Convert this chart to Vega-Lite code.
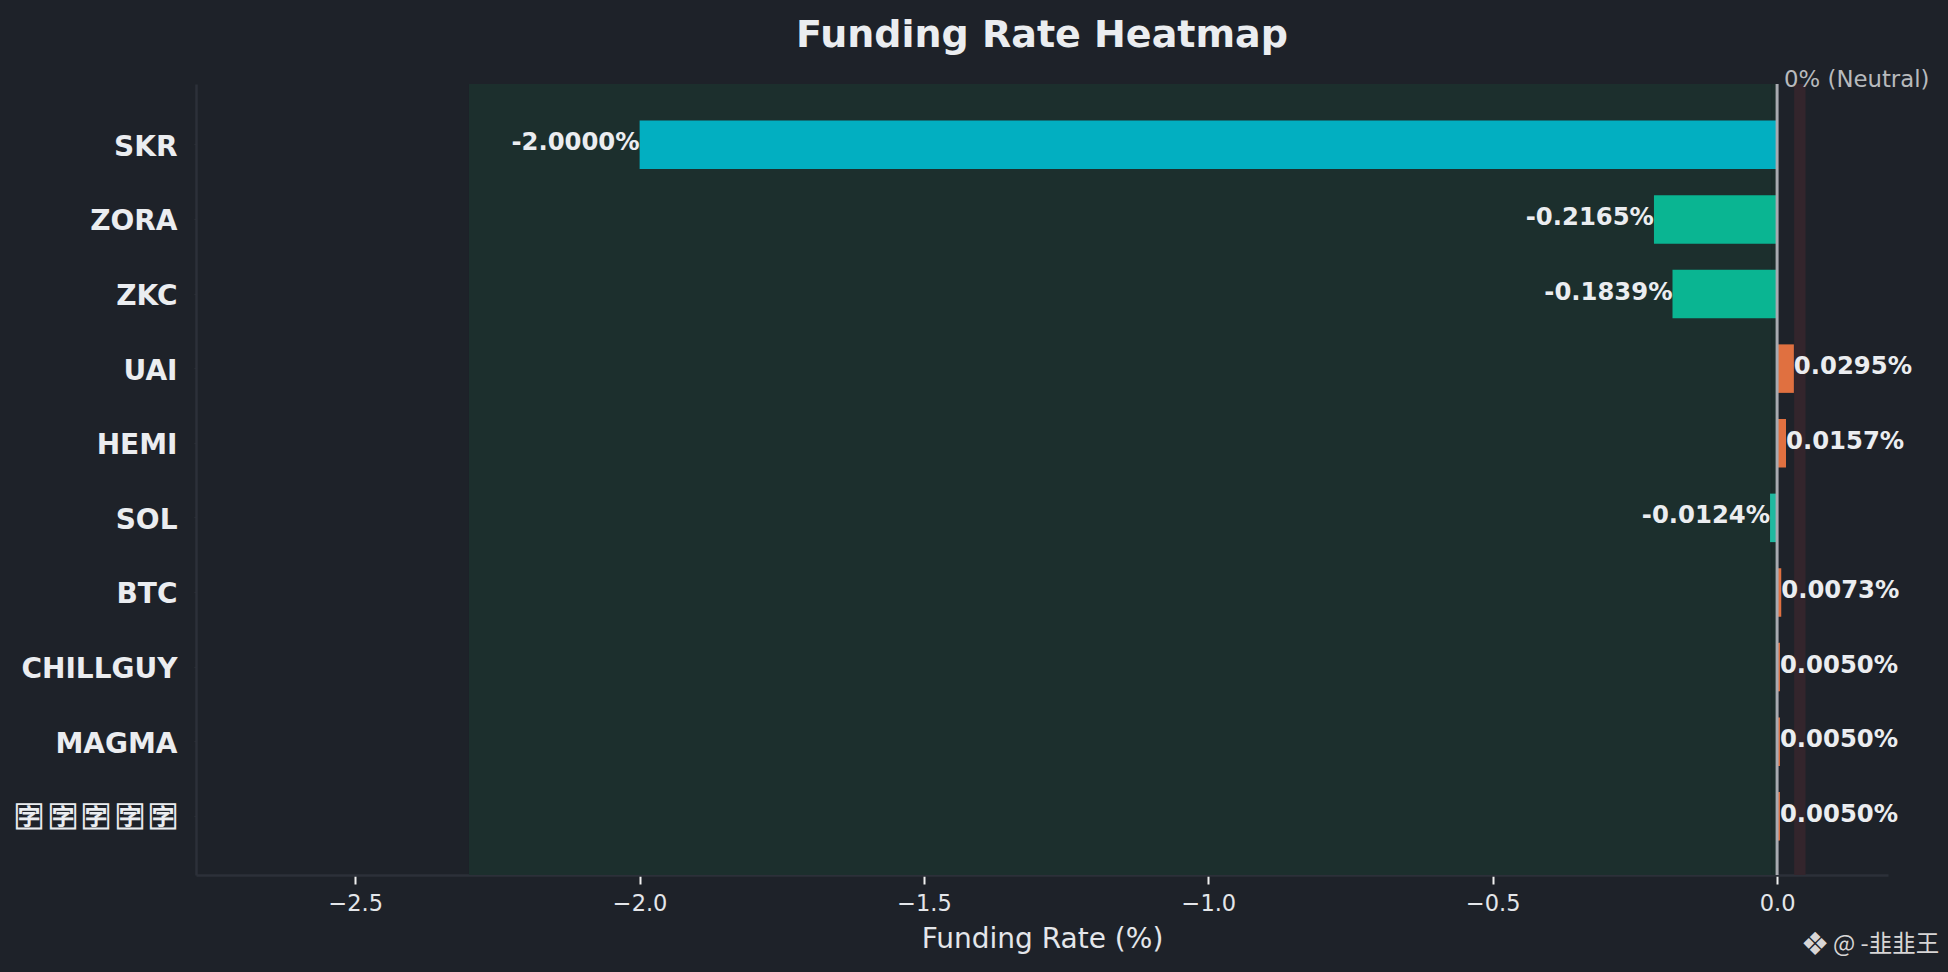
{
"$schema":"https://vega.github.io/schema/vega-lite/v6.json",
"width":1692,"height":791,
"autosize":{"type":"none"},
"padding":{"left":196,"top":84,"right":60,"bottom":97},
"background":"#1e2229",
"title":{"text":"Funding Rate Heatmap","font":"DejaVu Sans","fontWeight":"bold","fontSize":38,"color":"#ebedf0","anchor":"middle","offset":14},
"config":{"view":{"stroke":null},"font":"DejaVu Sans"},
"datasets":{
"rates":[
{"symbol":"SKR","rate":-2.0,"label":"-2.0000%","tier":"extreme"},
{"symbol":"ZORA","rate":-0.2165,"label":"-0.2165%","tier":"negative"},
{"symbol":"ZKC","rate":-0.1839,"label":"-0.1839%","tier":"negative"},
{"symbol":"UAI","rate":0.0295,"label":"0.0295%","tier":"positive"},
{"symbol":"HEMI","rate":0.0157,"label":"0.0157%","tier":"positive"},
{"symbol":"SOL","rate":-0.0124,"label":"-0.0124%","tier":"mild"},
{"symbol":"BTC","rate":0.0073,"label":"0.0073%","tier":"positive"},
{"symbol":"CHILLGUY","rate":0.005,"label":"0.0050%","tier":"positive"},
{"symbol":"MAGMA","rate":0.005,"label":"0.0050%","tier":"positive"},
{"symbol":"🈑\u2009🈑\u2009🈑\u2009🈑\u2009🈑","rate":0.005,"label":"0.0050%","tier":"positive"}
],
"bands":[
{"from":-2.3,"to":-0.01,"zone":"green"},
{"from":-0.01,"to":0,"zone":"neutral"},
{"from":0.03,"to":0.05,"zone":"red"}
]
},
"layer":[
{"data":{"name":"bands"},"mark":{"type":"rect"},
"encoding":{
"x":{"field":"from","type":"quantitative","scale":{"domain":[-2.78,0.195],"nice":false,"zero":false},
"axis":{"title":"Funding Rate (%)","titleFont":"DejaVu Sans","titleFontWeight":"normal","titleFontSize":28,"titleColor":"#e4e6ea","titlePadding":11,
"values":[-2.5,-2,-1.5,-1,-0.5,0],"format":".1f","labelExpr":"replace(datum.label,'-','−')","labelFont":"DejaVu Sans","labelFontSize":22.5,"labelColor":"#e4e6ea","labelPadding":8,
"tickColor":"#f0f0f0","tickSize":9,"tickWidth":2,"domainColor":"#2c3039","domainWidth":2.5,"grid":false}},
"x2":{"field":"to"},
"color":{"field":"zone","type":"nominal","scale":{"domain":["green","neutral","red"],"range":["#1c2f2d","#1b2d2b","#33252c"]},"legend":null}}},
{"data":{"name":"rates"},"mark":{"type":"bar"},
"encoding":{
"y":{"field":"symbol","type":"nominal","sort":null,"scale":{"paddingInner":0.35,"paddingOuter":0.475,"align":0.515},
"axis":{"title":null,"labelFont":"DejaVu Sans","labelFontWeight":"bold","labelFontSize":28,"labelColor":"#ebedf0","labelPadding":17,"labelOffset":3,"labelLimit":300,"tickSize":2,"tickColor":"#2c3039","domainColor":"#2c3039","domainWidth":2.5,"grid":false}},
"x":{"field":"rate","type":"quantitative"},
"color":{"field":"tier","type":"nominal","scale":{"domain":["extreme","negative","mild","positive"],"range":["#02afc1","#0ab592","#1fb9a0","#e07040"]},"legend":null}}},
{"data":{"name":"rates"},"transform":[{"filter":"datum.rate<0"}],"mark":{"type":"text","align":"right","baseline":"middle","dy":-1.5,"font":"DejaVu Sans","fontWeight":"bold","fontSize":24.3,"color":"#ebedf0"},
"encoding":{"y":{"field":"symbol","type":"nominal","sort":null},"x":{"field":"rate","type":"quantitative"},"text":{"field":"label"}}},
{"data":{"name":"rates"},"transform":[{"filter":"datum.rate>=0"}],"mark":{"type":"text","align":"left","baseline":"middle","dy":-1.5,"font":"DejaVu Sans","fontWeight":"bold","fontSize":24.3,"color":"#ebedf0"},
"encoding":{"y":{"field":"symbol","type":"nominal","sort":null},"x":{"field":"rate","type":"quantitative"},"text":{"field":"label"}}},
{"data":{"values":[{"x":0}]},"mark":{"type":"rule","color":"#a8aab0","strokeWidth":3},"encoding":{"x":{"field":"x","type":"quantitative"}}},
{"data":{"values":[{"x":0,"anchor":"SKR","note":"0% (Neutral)"}]},"mark":{"type":"text","align":"left","baseline":"middle","dx":7,"dy":-65,"font":"DejaVu Sans","fontSize":22.8,"color":"#b8babd","clip":false},
"encoding":{"x":{"field":"x","type":"quantitative"},"y":{"field":"anchor","type":"nominal","sort":null},"text":{"field":"note"}}},
{"data":{"values":[{"x":0.285,"anchor":"🈑\u2009🈑\u2009🈑\u2009🈑\u2009🈑","note":"@ -韭韭王"}]},"mark":{"type":"text","align":"right","baseline":"middle","dy":129,"font":"Noto Sans CJK SC","fontSize":23.5,"color":"#d8d6d6","clip":false},
"encoding":{"x":{"field":"x","type":"quantitative"},"y":{"field":"anchor","type":"nominal","sort":null},"text":{"field":"note"}}},
{"data":{"values":[{"x":0.0668,"anchor":"🈑\u2009🈑\u2009🈑\u2009🈑\u2009🈑","note":"❖"}]},"mark":{"type":"text","align":"center","baseline":"middle","dy":129,"font":"DejaVu Sans","fontSize":32,"color":"#d8d6d6","clip":false},
"encoding":{"x":{"field":"x","type":"quantitative"},"y":{"field":"anchor","type":"nominal","sort":null},"text":{"field":"note"}}}
],
"resolve":{"scale":{"color":"independent"}}
}
